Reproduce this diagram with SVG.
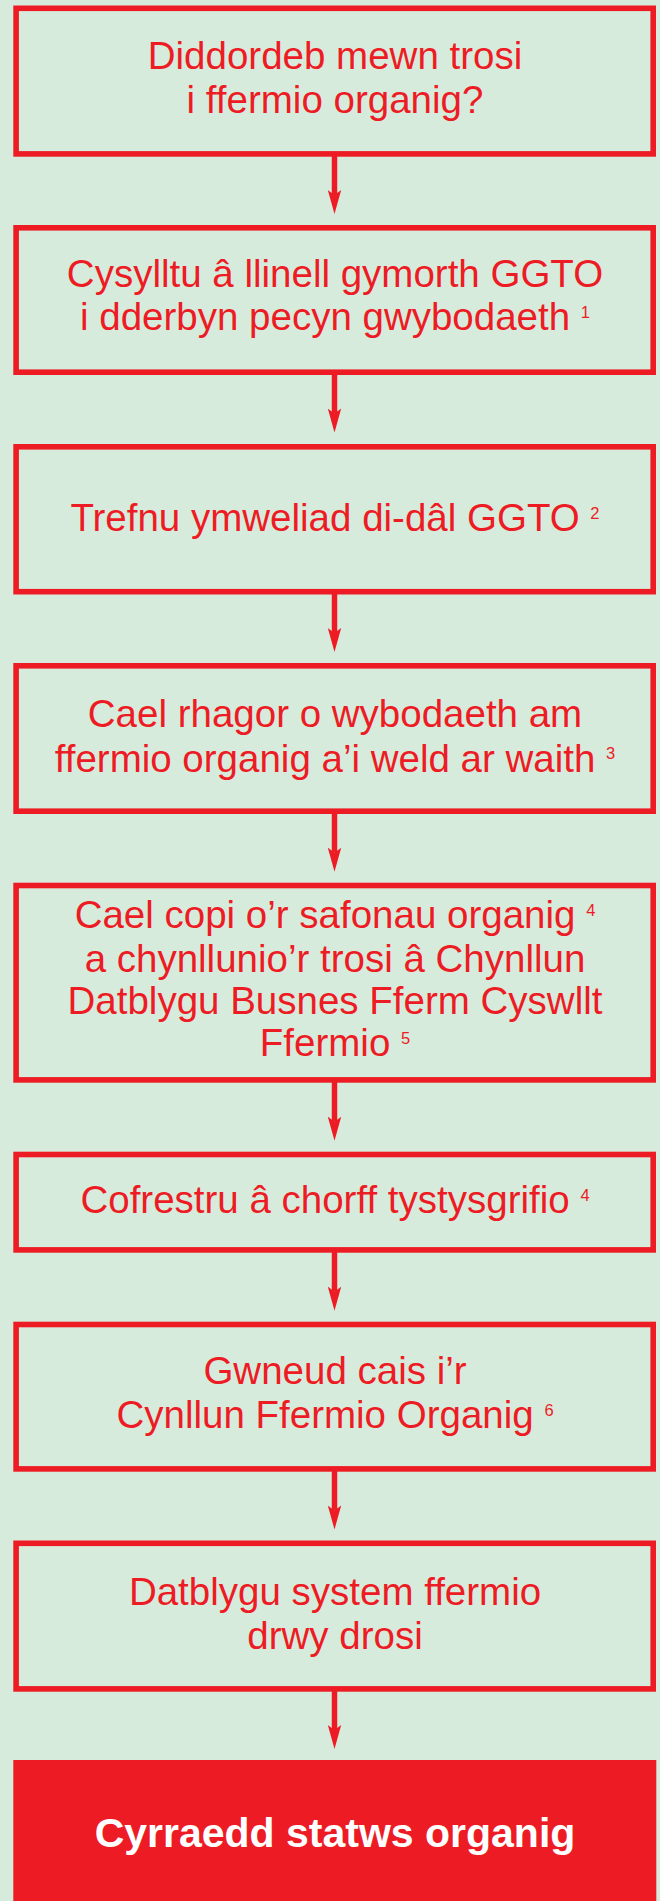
<svg xmlns="http://www.w3.org/2000/svg" width="660" height="1901" viewBox="0 0 660 1901">
<style>
.box{fill:none;stroke:#ed1c24;stroke-width:5.6}
.t{font-family:"Liberation Sans",Arial,sans-serif;font-size:38.5px;fill:#ed1c24;text-anchor:middle}
.sup{font-size:16.5px}
.fin{font-family:"Liberation Sans",Arial,sans-serif;font-size:41px;font-weight:bold;fill:#ffffff;text-anchor:middle}
.conn line{stroke:#ed1c24;stroke-width:5.5;marker-end:url(#ah)}
</style>
<defs>
<marker id="ah" viewBox="-6 -7 26 14" markerWidth="26" markerHeight="14" refX="0" refY="0" orient="auto" markerUnits="userSpaceOnUse">
<path d="M-5,-6.7 L19,0 L-5,6.7 L0,0 Z" fill="#ed1c24"/>
</marker>
</defs>
<rect x="0" y="0" width="660" height="1901" fill="#d7ebdd"/>
<g id="n1">
<rect class="box" x="16.1" y="8.3" width="637.1" height="145.6"/>
<text class="t" x="335" y="69.3">Diddordeb mewn trosi</text>
<text class="t" x="335" y="113.3">i ffermio organig?</text>
</g>
<g id="n2">
<rect class="box" x="16.1" y="227.8" width="637.1" height="144.4"/>
<text class="t" x="335" y="286.7">Cysylltu â llinell gymorth GGTO</text>
<text class="t" x="335" y="330">i dderbyn pecyn gwybodaeth <tspan class="sup" dy="-12.5">1</tspan></text>
</g>
<g id="n3">
<rect class="box" x="16.1" y="446.8" width="637.1" height="144.9"/>
<text class="t" x="335" y="531">Trefnu ymweliad di-dâl GGTO <tspan class="sup" dy="-12.5">2</tspan></text>
</g>
<g id="n4">
<rect class="box" x="16.1" y="665.8" width="637.1" height="145.4"/>
<text class="t" x="335" y="727.3">Cael rhagor o wybodaeth am</text>
<text class="t" x="335" y="771.7">ffermio organig a’i weld ar waith <tspan class="sup" dy="-12.5">3</tspan></text>
</g>
<g id="n5">
<rect class="box" x="16.1" y="885.5" width="637.1" height="194.4"/>
<text class="t" x="335" y="928.3">Cael copi o’r safonau organig <tspan class="sup" dy="-12.5">4</tspan></text>
<text class="t" x="335" y="971.5">a chynllunio’r trosi â Chynllun</text>
<text class="t" x="335" y="1014">Datblygu Busnes Fferm Cyswllt</text>
<text class="t" x="335" y="1056">Ffermio <tspan class="sup" dy="-12.5">5</tspan></text>
</g>
<g id="n6">
<rect class="box" x="16.1" y="1154.5" width="637.1" height="95.4"/>
<text class="t" x="335" y="1213.3">Cofrestru â chorff tystysgrifio <tspan class="sup" dy="-12.5">4</tspan></text>
</g>
<g id="n7">
<rect class="box" x="16.1" y="1324.5" width="637.1" height="144.4"/>
<text class="t" x="335" y="1384.3">Gwneud cais i’r</text>
<text class="t" x="335" y="1428.3">Cynllun Ffermio Organig <tspan class="sup" dy="-12.5">6</tspan></text>
</g>
<g id="n8">
<rect class="box" x="16.1" y="1543.3" width="637.1" height="145.6"/>
<text class="t" x="335" y="1605">Datblygu system ffermio</text>
<text class="t" x="335" y="1649">drwy drosi</text>
</g>
<g id="n9">
<rect x="13.3" y="1760" width="643" height="141" fill="#ed1c24"/>
<text class="fin" x="335" y="1847">Cyrraedd statws organig</text>
</g>
<g id="connectors" class="conn">
<line x1="334.5" y1="155" x2="334.5" y2="195"/>
<line x1="334.5" y1="373" x2="334.5" y2="413.5"/>
<line x1="334.5" y1="593" x2="334.5" y2="633"/>
<line x1="334.5" y1="812" x2="334.5" y2="852.7"/>
<line x1="334.5" y1="1081" x2="334.5" y2="1121.7"/>
<line x1="334.5" y1="1251" x2="334.5" y2="1291.7"/>
<line x1="334.5" y1="1470" x2="334.5" y2="1510.5"/>
<line x1="334.5" y1="1690" x2="334.5" y2="1730"/>
</g>
</svg>
